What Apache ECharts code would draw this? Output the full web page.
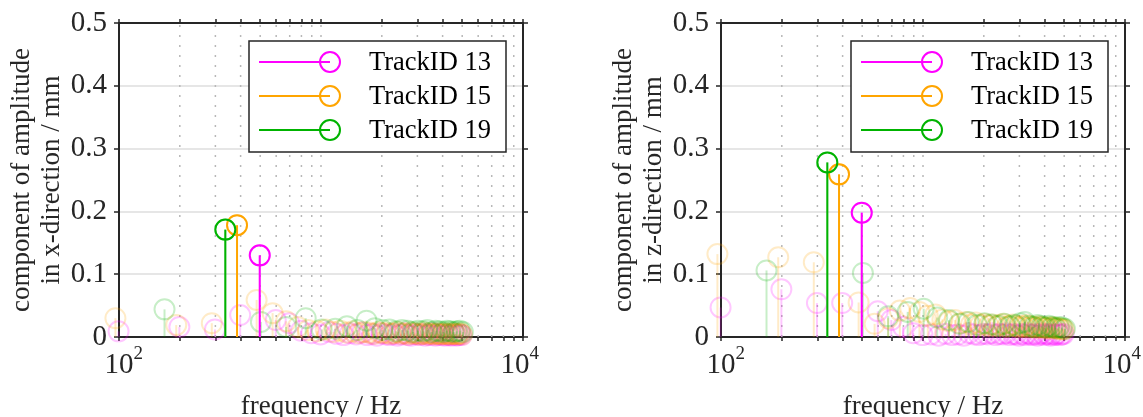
<!DOCTYPE html>
<html>
<head>
<meta charset="utf-8">
<script src="https://cdn.jsdelivr.net/npm/echarts@6/dist/echarts.min.js"></script>
<style>
  html, body { margin: 0; padding: 0; background: #ffffff; }
  #chart { width: 1143px; height: 417px; }
</style>
</head>
<body>
<div id="chart"></div>
<script>
// Spectral amplitude components of three tracks, stem plots on a log frequency axis.

const trackNames = ['TrackID 13', 'TrackID 15', 'TrackID 19'];

// frequency bins (Hz) of each track
const freq13 = [99.5, 199, 298.5, 398, 497.5, 597, 696.5, 796, 895.5, 995,
  1094.5, 1194, 1293.5, 1393, 1492.5, 1592, 1691.5, 1791, 1890.5, 1990,
  2089.5, 2189, 2288.5, 2388, 2487.5, 2587, 2686.5, 2786, 2885.5, 2985,
  3084.5, 3184, 3283.5, 3383, 3482.5, 3582, 3681.5, 3781, 3880.5, 3980,
  4079.5, 4179, 4278.5, 4378, 4477.5, 4577, 4676.5, 4776, 4875.5, 4975];
const freq15 = [96, 192, 288, 384, 480, 576, 672, 768, 864, 960,
  1056, 1152, 1248, 1344, 1440, 1536, 1632, 1728, 1824, 1920,
  2016, 2112, 2208, 2304, 2400, 2496, 2592, 2688, 2784, 2880,
  2976, 3072, 3168, 3264, 3360, 3456, 3552, 3648, 3744, 3840,
  3936, 4032, 4128, 4224, 4320, 4416, 4512, 4608, 4704, 4800,
  4896, 4992];
const freq19 = [168, 336, 504, 672, 840, 1008, 1176, 1344, 1512, 1680,
  1848, 2016, 2184, 2352, 2520, 2688, 2856, 3024, 3192, 3360,
  3528, 3696, 3864, 4032, 4200, 4368, 4536, 4704, 4872, 5040];

// x-direction amplitude (mm)
const ampX13 = [0.009, 0.016, 0.012, 0.035, 0.130, 0.027, 0.022, 0.010, 0.006, 0.004,
  0.008, 0.005, 0.003, 0.006, 0.004, 0.007, 0.003, 0.005, 0.002, 0.006,
  0.004, 0.003, 0.005, 0.002, 0.004, 0.006, 0.003, 0.002, 0.005, 0.004,
  0.003, 0.005, 0.002, 0.004, 0.003, 0.006, 0.002, 0.004, 0.003, 0.005,
  0.002, 0.003, 0.004, 0.002, 0.003, 0.005, 0.002, 0.003, 0.004, 0.003];
const ampX15 = [0.030, 0.019, 0.022, 0.178, 0.059, 0.038, 0.025, 0.016, 0.011, 0.009,
  0.012, 0.008, 0.010, 0.007, 0.009, 0.006, 0.008, 0.007, 0.005, 0.008,
  0.006, 0.007, 0.005, 0.006, 0.008, 0.005, 0.006, 0.004, 0.007, 0.005,
  0.006, 0.004, 0.005, 0.007, 0.004, 0.006, 0.005, 0.004, 0.006, 0.005,
  0.004, 0.005, 0.006, 0.004, 0.005, 0.004, 0.006, 0.005, 0.004, 0.005,
  0.006, 0.004];
const ampX19 = [0.044, 0.171, 0.024, 0.016, 0.030, 0.012, 0.013, 0.017, 0.011, 0.026,
  0.014, 0.011, 0.012, 0.009, 0.011, 0.010, 0.008, 0.010, 0.009, 0.011,
  0.008, 0.010, 0.009, 0.008, 0.010, 0.009, 0.008, 0.009, 0.010, 0.008];

// z-direction amplitude (mm)
const ampZ13 = [0.047, 0.076, 0.054, 0.054, 0.198, 0.041, 0.027, 0.016, 0.006, 0.003,
  0.004, 0.002, 0.005, 0.003, 0.004, 0.002, 0.006, 0.004, 0.003, 0.005,
  0.004, 0.006, 0.003, 0.005, 0.004, 0.006, 0.003, 0.005, 0.004, 0.002,
  0.005, 0.003, 0.006, 0.004, 0.003, 0.005, 0.002, 0.004, 0.006, 0.003,
  0.005, 0.004, 0.002, 0.005, 0.003, 0.004, 0.006, 0.003, 0.004, 0.005];
const ampZ15 = [0.132, 0.127, 0.119, 0.259, 0.055, 0.021, 0.030, 0.042, 0.046, 0.040,
  0.034, 0.036, 0.028, 0.025, 0.027, 0.022, 0.024, 0.020, 0.023, 0.019,
  0.021, 0.018, 0.020, 0.017, 0.019, 0.021, 0.016, 0.018, 0.020, 0.017,
  0.015, 0.018, 0.016, 0.019, 0.015, 0.017, 0.016, 0.014, 0.017, 0.015,
  0.016, 0.014, 0.015, 0.013, 0.016, 0.014, 0.015, 0.013, 0.014, 0.012,
  0.013, 0.012];
const ampZ19 = [0.106, 0.278, 0.102, 0.033, 0.040, 0.045, 0.031, 0.027, 0.021, 0.024,
  0.019, 0.022, 0.020, 0.018, 0.021, 0.017, 0.019, 0.022, 0.024, 0.018,
  0.016, 0.019, 0.017, 0.015, 0.018, 0.016, 0.014, 0.016, 0.015, 0.013];

// log-axis ticks and labelled decades
const freqTicks = [100, 200, 300, 400, 500, 600, 700, 800, 900,
  1000, 2000, 3000, 4000, 5000, 6000, 7000, 8000, 9000, 10000];
const freqLabels = [100, 10000];

const FONT = '"Liberation Serif", "Times New Roman", serif';
const INK = '#262626';
const trackColors = ['#ff00ff', '#ffa500', '#00b300'];
const FADE = 0.22;
const R = 10;

const freqs = [freq13, freq15, freq19];
const panels = [
  { yName: 'component of amplitude\nin x-direction / mm', amps: [ampX13, ampX15, ampX19],
    grid: { left: 119, top: 23, width: 404, height: 314 }, legendX: 249 },
  { yName: 'component of amplitude\nin z-direction / mm', amps: [ampZ13, ampZ15, ampZ19],
    grid: { left: 721, top: 23, width: 404, height: 314 }, legendX: 851 }
];

function pairs(xs, ys) { return xs.map((x, i) => [x, ys[i]]); }

function peakOf(xs, ys) {
  let k = 0;
  ys.forEach((v, i) => { if (v > ys[k]) k = i; });
  return [[xs[k], ys[k]]];
}

function fadeColor(hex, a) {
  const n = parseInt(hex.slice(1), 16);
  return `rgba(${(n >> 16) & 255},${(n >> 8) & 255},${n & 255},${a})`;
}

// stem: vertical line from the baseline to the value, open circle at the value
function stemRenderer(color) {
  return function (params, api) {
    const f = api.value(0), v = api.value(1);
    const head = api.coord([f, v]);
    const foot = api.coord([f, 0]);
    return {
      type: 'group',
      children: [
        { type: 'line', shape: { x1: foot[0], y1: foot[1], x2: head[0], y2: head[1] },
          style: { stroke: color, lineWidth: 2 } },
        { type: 'circle', shape: { cx: head[0], cy: head[1], r: R },
          style: { fill: 'none', stroke: color, lineWidth: 2 } }
      ]
    };
  };
}

// dotted vertical grid at every log tick
function gridLineRenderer(params, api) {
  const f = api.value(0);
  const a = api.coord([f, 0]);
  const b = api.coord([f, 0.5]);
  return { type: 'line', shape: { x1: a[0], y1: a[1], x2: b[0], y2: b[1] },
    style: { stroke: '#b8b8b8', lineWidth: 1.5, lineDash: [2, 8] } };
}

// power-of-ten label; the first decade keeps "10" centred on its tick,
// the last one is nudged inwards so the exponent stays on the canvas
const xLabelRich = {
  b: { fontFamily: FONT, fontSize: 29, color: INK },
  s: { fontFamily: FONT, fontSize: 19, color: INK, padding: [0, 0, 21, 0] },
  lp: { width: 9.5, fontSize: 10 },
  rp: { width: 6.5, fontSize: 10 }
};
function decadeLabel(v) {
  const e = Math.round(Math.log10(v));
  const core = `{b|10}{s|${e}}`;
  return v <= freqLabels[0] ? `{lp| }${core}` : `${core}{rp| }`;
}

const grids = [], xAxes = [], yAxes = [], series = [], graphics = [];

panels.forEach((p, gi) => {
  grids.push(Object.assign({ outerBoundsMode: 'none', containLabel: false }, p.grid));
  const axisLine = { show: true, onZero: false, lineStyle: { color: INK, width: 2 } };
  const xTick = { show: true, inside: false, length: 4, customValues: freqTicks,
    lineStyle: { color: INK, width: 1.5 } };
  xAxes.push({
    type: 'log', logBase: 10, min: 100, max: 10000, gridIndex: gi, position: 'bottom',
    axisLine, axisTick: xTick,
    axisLabel: { customValues: freqLabels, margin: 8, rich: xLabelRich, formatter: decadeLabel },
    splitLine: { show: false },
    name: 'frequency / Hz', nameLocation: 'middle', nameGap: 56,
    nameTextStyle: { fontFamily: FONT, fontSize: 27, color: INK }
  });
  xAxes.push({
    type: 'log', logBase: 10, min: 100, max: 10000, gridIndex: gi, position: 'top',
    axisLine, axisTick: xTick, axisLabel: { show: false }, splitLine: { show: false }
  });
  const yTick = { show: true, inside: false, length: 5, lineStyle: { color: INK, width: 1.5 } };
  yAxes.push({
    type: 'value', min: 0, max: 0.5, interval: 0.1, gridIndex: gi, position: 'left',
    axisLine, axisTick: yTick,
    axisLabel: { fontFamily: FONT, fontSize: 29, color: INK, margin: 12,
      formatter: v => (v === 0 ? '0' : v.toFixed(1)) },
    splitLine: { show: true, lineStyle: { color: '#dedede', width: 1.5 } },
    name: p.yName, nameLocation: 'middle', nameRotate: 90, nameGap: 52,
    nameTextStyle: { fontFamily: FONT, fontSize: 27, color: INK, lineHeight: 30, align: 'center' }
  });
  yAxes.push({
    type: 'value', min: 0, max: 0.5, interval: 0.1, gridIndex: gi, position: 'right',
    axisLine, axisTick: yTick, axisLabel: { show: false }, splitLine: { show: false }
  });

  const xi = gi * 2, yi = gi * 2;
  series.push({
    type: 'custom', xAxisIndex: xi, yAxisIndex: yi, silent: true, z: 1,
    data: freqTicks.slice(1, -1).map(f => [f, 0]), renderItem: gridLineRenderer
  });
  trackNames.forEach((name, ti) => {
    series.push({
      type: 'custom', name, xAxisIndex: xi, yAxisIndex: yi, z: 2, silent: true,
      data: pairs(freqs[ti], p.amps[ti]),
      renderItem: stemRenderer(fadeColor(trackColors[ti], FADE))
    });
  });
  trackNames.forEach((name, ti) => {
    series.push({
      type: 'custom', name, xAxisIndex: xi, yAxisIndex: yi, z: 3, silent: true,
      data: peakOf(freqs[ti], p.amps[ti]),
      renderItem: stemRenderer(trackColors[ti])
    });
  });

  // legend box
  const x0 = p.legendX, y0 = 41;
  graphics.push({ type: 'rect', z: 100, shape: { x: x0, y: y0, width: 257, height: 111 },
    style: { fill: '#ffffff', stroke: INK, lineWidth: 1.5 } });
  trackNames.forEach((name, ti) => {
    const cy = y0 + 21 + ti * 34;
    graphics.push({ type: 'line', z: 101, shape: { x1: x0 + 10, y1: cy, x2: x0 + 81, y2: cy },
      style: { stroke: trackColors[ti], lineWidth: 2 } });
    graphics.push({ type: 'circle', z: 101, shape: { cx: x0 + 81, cy, r: R },
      style: { fill: 'none', stroke: trackColors[ti], lineWidth: 2 } });
    graphics.push({ type: 'text', z: 101, x: x0 + 120, y: cy + 1,
      style: { text: name, fontFamily: FONT, fontSize: 26.5, fill: '#000000',
        align: 'left', verticalAlign: 'middle' } });
  });
});

const chart = echarts.init(document.getElementById('chart'), null, { renderer: 'canvas' });
chart.setOption({
  animation: false,
  backgroundColor: '#ffffff',
  grid: grids,
  xAxis: xAxes,
  yAxis: yAxes,
  series,
  graphic: graphics
});
</script>
</body>
</html>
